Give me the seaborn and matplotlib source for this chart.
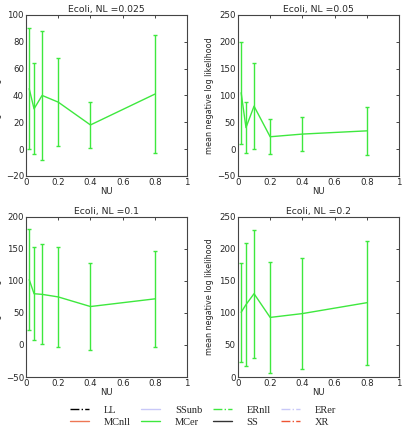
import numpy as np
import pandas as pd
import seaborn as sns
import matplotlib
matplotlib.use("Agg")
import matplotlib.pyplot as plt
from matplotlib.lines import Line2D

nu = [0.02, 0.05, 0.1, 0.2, 0.4, 0.8]
noise_levels = ["0.025", "0.05", "0.1", "0.2"]

# mean negative log likelihood (MCer) per panel
mean_025 = [45, 30, 40, 35, 18, 41]
mean_05 = [105, 40, 80, 23, 28, 34]
mean_1 = [102, 80, 79, 75, 60, 72]
mean_2 = [101, 113, 130, 93, 99, 116]

err_025 = [45, 34, 48, 33, 17, 44]
err_05 = [95, 48, 80, 33, 32, 45]
err_1 = [79, 73, 78, 78, 68, 75]
err_2 = [77, 96, 100, 87, 87, 97]

ylims = [(-20, 100), (-50, 250), (-50, 200), (0, 250)]

# legend order as read row by row in the figure
legend_names = ["LL", "SSunb", "ERnll", "ERer", "MCnll", "MCer", "SS", "XR"]

sns.set_style("white")
plt.rcParams["font.family"] = ["DejaVu Sans"]
plt.rcParams["xtick.direction"] = "in"
plt.rcParams["ytick.direction"] = "in"

green = "#3ee83e"

fig = plt.figure(figsize=(4.06, 4.26), dpi=100)
positions = [
    [0.064, 0.587, 0.397, 0.378],
    [0.586, 0.587, 0.397, 0.378],
    [0.064, 0.115, 0.397, 0.376],
    [0.586, 0.115, 0.397, 0.376],
]
means = [mean_025, mean_05, mean_1, mean_2]
errs = [err_025, err_05, err_1, err_2]

for i in range(4):
    ax = fig.add_axes(positions[i])
    df = pd.DataFrame({"NU": nu, "val": means[i]})
    sns.lineplot(data=df, x="NU", y="val", ax=ax, color=green, lw=1.0)
    ax.errorbar(nu, means[i], yerr=errs[i], fmt="none", ecolor=green,
                elinewidth=1.0, capsize=1.5, capthick=1.0)
    ax.set_xlim(0, 1)
    ax.set_ylim(*ylims[i])
    ax.set_xticks([0, 0.2, 0.4, 0.6, 0.8, 1])
    ax.set_xticklabels(["0", "0.2", "0.4", "0.6", "0.8", "1"])
    ax.set_title("Ecoli, NL =" + noise_levels[i], fontsize=6.7, pad=2)
    ax.set_xlabel("NU", fontsize=6, labelpad=0)
    ax.set_ylabel("mean negative log likelihood", fontsize=5.8, labelpad=0)
    ax.yaxis.set_label_coords(-0.15, 0.5)
    ax.tick_params(labelsize=6.2, length=2.5, width=0.6, pad=1.5,
                   top=True, right=True)
    for s in ax.spines.values():
        s.set_color("#444444")
        s.set_linewidth(0.8)

styles = {
    "LL": ("black", "-."),
    "SSunb": ("#c8c8f8", "-"),
    "ERnll": (green, "-."),
    "ERer": ("#c8c8f8", "-."),
    "MCnll": ("#ee7755", "-"),
    "MCer": (green, "-"),
    "SS": ("#333333", "-"),
    "XR": ("#ee5533", "-."),
}
# matplotlib fills legend columns first, so reorder to get rows
order = [legend_names[j] for c in range(4) for j in (c, c + 4)]
handles = [Line2D([], [], color=styles[n][0], ls=styles[n][1], lw=1)
           for n in order]
fig.legend(handles, order, loc="upper center", ncol=4,
           bbox_to_anchor=(0.5, 0.058), frameon=False,
           prop={"family": "Liberation Serif", "size": 7.5},
           handlelength=1.85, handletextpad=1.4, columnspacing=1.0,
           labelspacing=0.25, borderaxespad=0)

fig.savefig("out.png", dpi=100)
